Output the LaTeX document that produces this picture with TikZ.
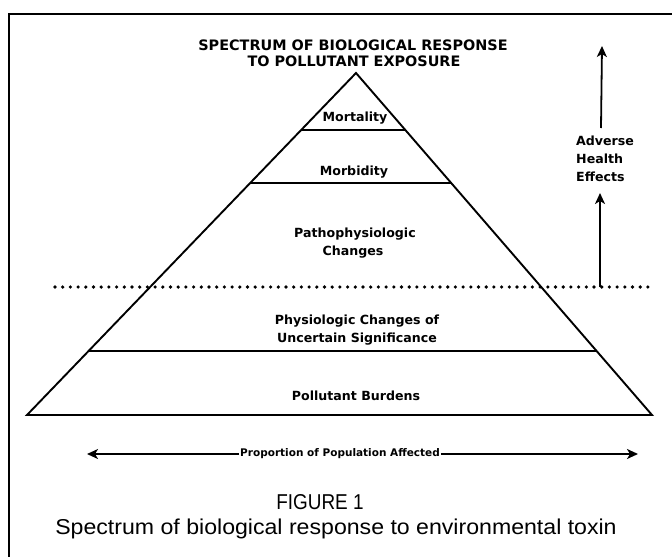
\documentclass[tikz,border=0pt]{standalone}
\usepackage{fontspec}
\setmainfont{Liberation Sans}
\newfontfamily\lblfont{DejaVu Sans}
\usetikzlibrary{arrows.meta,calc}
\begin{document}
\begin{tikzpicture}[x=1pt,y=-1pt,
  lbl/.style={font=\lblfont\bfseries\fontsize{12.6}{14}\selectfont, inner sep=0pt},
  ttl/.style={font=\lblfont\bfseries\fontsize{14.4}{16}\selectfont, inner sep=0pt},
  small/.style={font=\lblfont\bfseries\fontsize{10.5}{12}\selectfont, inner sep=1pt},
  captxt/.style={font=\fontsize{21.5}{24}\selectfont, inner sep=0pt, anchor=base},
  edge/.style={line width=1.9pt},
  frame/.style={line width=1.6pt},
  dots/.style={line width=3.6pt, line cap=round, dash pattern=on 0pt off 7.7pt},
  arr/.style={line width=1.8pt, -{Stealth[length=11pt,width=10pt,inset=3pt]}}]
\useasboundingbox (0,0) rectangle (672,557);
% frame
\coordinate (ftl) at (9,14);
\coordinate (ftr) at (672,14);
\coordinate (fbl) at (9,557);
\draw[frame] (ftr) -- (ftl) -- (fbl);
% pyramid
\coordinate (apex) at (356,73);
\coordinate (bl) at (27,415);
\coordinate (br) at (652,415);
\draw[edge, line join=miter] (apex) -- (bl) -- (br) -- cycle;
\coordinate (m1l) at ($(apex)!0.1667!(bl)$);
\coordinate (m1r) at ($(apex)!0.1667!(br)$);
\coordinate (m2l) at ($(apex)!0.3216!(bl)$);
\coordinate (m2r) at ($(apex)!0.3216!(br)$);
\coordinate (m3l) at ($(apex)!0.8129!(bl)$);
\coordinate (m3r) at ($(apex)!0.8129!(br)$);
\draw[edge] (m1l) -- (m1r);
\draw[edge] (m2l) -- (m2r);
\draw[edge] (m3l) -- (m3r);
% dotted threshold
\coordinate (dl) at (55,287);
\coordinate (dr) at (651,287);
\draw[dots] (dl) -- (dr);
% titles
\node[ttl] (t1) at (353,45) {SPECTRUM OF BIOLOGICAL RESPONSE};
\node[ttl] (t2) at (354,61) {TO POLLUTANT EXPOSURE};
% labels
\node[lbl] (mort) at (355,118) {Mortality};
\node[lbl] (morb) at (354,172) {Morbidity};
\node[lbl] (path1) at (355,234) {Pathophysiologic};
\node[lbl] (path2) at (353,252) {Changes};
\node[lbl] (phys1) at (357,321) {Physiologic Changes of};
\node[lbl] (phys2) at (357,339) {Uncertain Significance};
\node[lbl] (burd) at (356,396) {Pollutant Burdens};
% adverse health effects
\node[lbl, anchor=west] (adv) at (576,141) {Adverse};
\node[lbl, anchor=west] (hea) at (576,159) {Health};
\node[lbl, anchor=west] (eff) at (576,177) {Effects};
\coordinate (a1s) at (600,287);
\coordinate (a1e) at (600,193);
\coordinate (a2s) at (601,128);
\coordinate (a2e) at (602,46);
\draw[arr] (a1s) -- (a1e);
\draw[arr] (a2s) -- (a2e);
% proportion arrow
\node[small] (prop) at (340,454) {Proportion of Population Affected};
\coordinate (pl) at (87,454);
\coordinate (pr) at (638,454);
\draw[arr] (prop.west) -- (pl);
\draw[arr] (prop.east) -- (pr);
% caption
\node[captxt] (fig) at (320,509) {\scalebox{0.88}[1]{FIGURE 1}};
\node[captxt] (capt) at (336,534) {\scalebox{1.075}[1]{Spectrum of biological response to environmental toxin}};
\end{tikzpicture}
\end{document}
